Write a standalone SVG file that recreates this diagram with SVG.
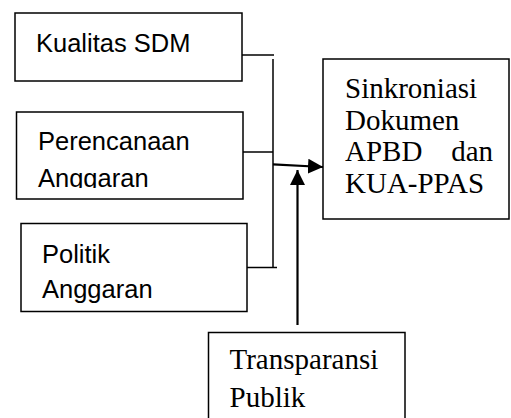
<svg xmlns="http://www.w3.org/2000/svg" width="511" height="418" viewBox="0 0 511 418">
<style>
.box{fill:#fff;stroke:#000;stroke-width:1.5}
.sans{font-family:"Liberation Sans",Arial,sans-serif;font-size:25.5px;fill:#000}
.serif{font-family:"Liberation Serif","Times New Roman",serif;font-size:29px;fill:#000}
.conn{fill:none;stroke:#000;stroke-width:1.5}
.arrow{fill:none;stroke:#000;stroke-width:2.2}
</style>
<defs>
<marker id="ah" markerUnits="userSpaceOnUse" markerWidth="16" markerHeight="16" refX="15" refY="7.5" orient="auto">
<path d="M0,0 L15,7.5 L0,15 z" fill="#000"/>
</marker>
<clipPath id="clip2"><rect x="16" y="112" width="228" height="76"/></clipPath>
</defs>
<g id="kualitas">
<rect class="box" x="15" y="13" width="227" height="68"/>
<text class="sans" x="36" y="52">Kualitas SDM</text>
</g>
<g id="perencanaan">
<rect class="box" x="16.5" y="112" width="226.5" height="87"/>
<g clip-path="url(#clip2)">
<text class="sans" x="38" y="150">Perencanaan</text>
<text class="sans" x="38" y="186.5">Anggaran</text>
</g>
</g>
<g id="politik">
<rect class="box" x="21" y="223.5" width="226" height="88"/>
<text class="sans" x="42" y="262.5">Politik</text>
<text class="sans" x="42" y="298">Anggaran</text>
</g>
<g id="sinkroniasi">
<rect class="box" x="323" y="59" width="186" height="160"/>
<text class="serif" x="345" y="98">Sinkroniasi</text>
<text class="serif" x="345" y="130">Dokumen</text>
<text class="serif" x="345" y="161">APBD</text>
<text class="serif" x="493" y="161" text-anchor="end">dan</text>
<text class="serif" x="345" y="192.5">KUA-PPAS</text>
</g>
<g id="transparansi">
<rect class="box" x="208.5" y="332.5" width="196.5" height="100"/>
<text class="serif" x="229.5" y="369">Transparansi</text>
<text class="serif" x="229.5" y="407">Publik</text>
</g>
<g id="connectors">
<path class="conn" d="M242,55 H274"/>
<path class="conn" d="M273,59 V268"/>
<path class="conn" d="M243,152 H273"/>
<path class="conn" d="M247,267.5 H277"/>
<path class="arrow" d="M273,164.3 L323,167" marker-end="url(#ah)"/>
<path class="arrow" d="M297.5,325 V170" marker-end="url(#ah)"/>
</g>
</svg>
